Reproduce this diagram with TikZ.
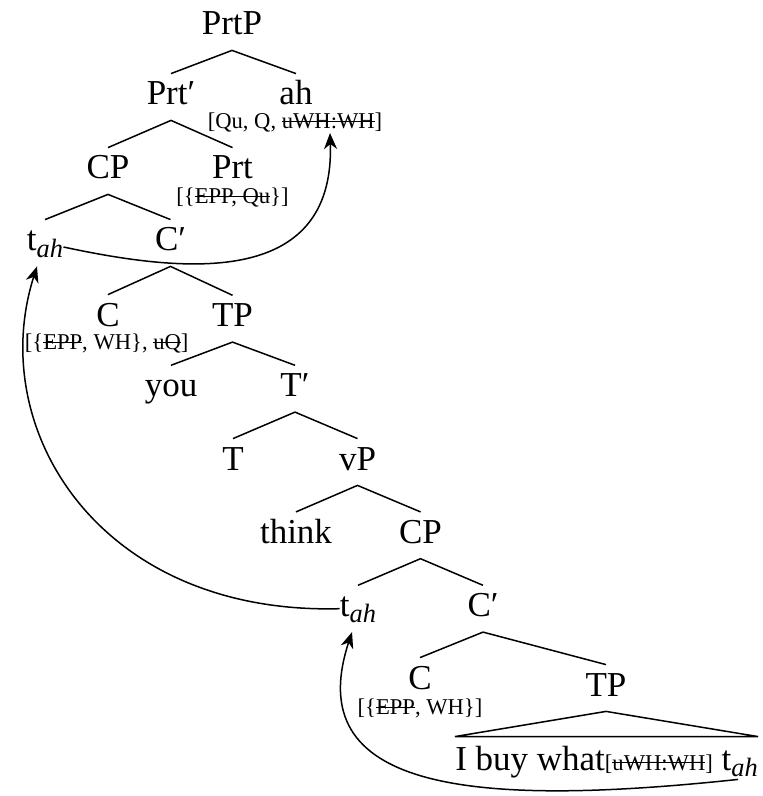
\documentclass[tikz,border=0pt]{standalone}
\usepackage{fontspec}
\setmainfont{Liberation Serif}
\usetikzlibrary{arrows.meta}
\newcommand\mainsz{\fontsize{17.5}{20}\selectfont}
\newcommand\featsz{\fontsize{11.3}{13}\selectfont}
\newcommand\stk[1]{\setbox0=\hbox{#1}\rlap{\rule[0.3em]{\wd0}{0.6pt}}\box0}
\newcommand\tah{t\raisebox{-3pt}{\fontsize{13.2}{15}\selectfont\itshape ah}}
\begin{document}
\begin{tikzpicture}[x=0.5pt,y=-0.5pt,
  cat/.style={font=\mainsz, inner xsep=0pt, inner ysep=4.5pt, text height=11pt, text depth=3pt, anchor=base},
  feat/.style={font=\featsz, inner sep=0pt, anchor=base},
  br/.style={line width=0.75pt},
  arr/.style={line width=0.75pt, -{Stealth[length=8pt,width=6.5pt,inset=2.5pt]}}]
\useasboundingbox (0,0) rectangle (762,796);
% nodes
\node[cat] (PrtP) at (232,35) {PrtP};
\node[cat] (Prtbar) at (171,105) {Prt′};
\node[cat] (ah) at (296,105) {ah};
\node[feat] (fah) at (295,129) {[Qu, Q, \stk{uWH:WH}]};
\node[cat] (CP1) at (108,179) {CP};
\node[cat] (Prt) at (232.5,179) {Prt};
\node[feat] (fprt) at (232.5,203.5) {[\{\stk{EPP, Qu}\}]};
\node[cat] (tah1) at (45,251) {\tah};
\node[cat] (Cbar1) at (170.5,251) {C′};
\node[cat] (C1) at (108,326) {C};
\node[feat] (fC1) at (106.7,349.5) {[\{\stk{EPP}, WH\}, \stk{uQ}]};
\node[cat] (TP1) at (232.5,326.7) {TP};
\node[cat] (you) at (171,396.7) {you};
\node[cat] (Tbar) at (295,396.7) {T′};
\node[cat] (T) at (233,470) {T};
\node[cat] (vP) at (357.5,470) {vP};
\node[cat] (think) at (296,543.3) {think};
\node[cat] (CP2) at (420.5,543.3) {CP};
\node[cat] (tah2) at (358,616.7) {\tah};
\node[cat] (Cbar2) at (483,616.7) {C′};
\node[cat] (C2) at (420,689) {C};
\node[feat] (fC2) at (420,714.5) {[\{\stk{EPP}, WH\}]};
\node[cat] (TP2) at (606,696) {TP};
\node[cat, inner ysep=5.5pt] (bot) at (606.5,770) {I buy what{\featsz[\stk{uWH:WH}]} \tah};
% branches
\draw[br] (Prtbar.north) -- (PrtP.south) -- (ah.north);
\draw[br] (CP1.north) -- (Prtbar.south) -- (Prt.north);
\draw[br] (tah1.north) -- (CP1.south) -- (Cbar1.north);
\draw[br] (C1.north) -- (Cbar1.south) -- (TP1.north);
\draw[br] (you.north) -- (TP1.south) -- (Tbar.north);
\draw[br] (T.north) -- (Tbar.south) -- (vP.north);
\draw[br] (think.north) -- (vP.south) -- (CP2.north);
\draw[br] (tah2.north) -- (CP2.south) -- (Cbar2.north);
\draw[br] (C2.north) -- (Cbar2.south) -- (TP2.north);
\draw[br] (TP2.south) -- (bot.north east) -- (bot.north west) -- cycle;
% movement arrows
\draw[arr] ([xshift=-10pt,yshift=4pt]bot.south east) .. controls (470,808) and (300,790) .. ([xshift=-3pt]tah2.south);
\draw[arr] (tah2.west) .. controls (100,615) and (-15,430) .. ([xshift=-4pt]tah1.south);
\draw[arr] ([yshift=-2pt]tah1.east) .. controls (180,272) and (335,290) .. ([xshift=17.5pt]fah.south);
\end{tikzpicture}
\end{document}
